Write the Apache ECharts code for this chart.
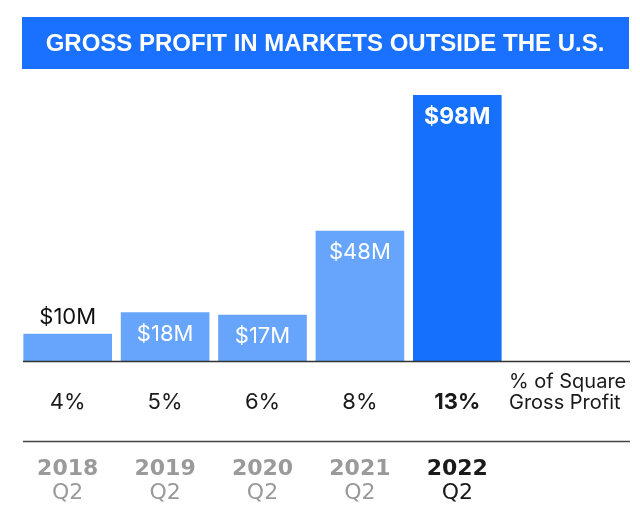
<!DOCTYPE html>
<html>
<head>
<meta charset="utf-8">
<script src="https://cdn.jsdelivr.net/npm/echarts@6/dist/echarts.min.js"></script>
<style>
html,body{margin:0;padding:0;background:#fff;}
#chart{width:640px;height:510px;}
</style>
</head>
<body>
<div id="chart"></div>
<script>
const titleText = 'GROSS PROFIT IN MARKETS OUTSIDE THE U.S.';
const years = ['2018', '2019', '2020', '2021', '2022'];
const quarters = ['Q2', 'Q2', 'Q2', 'Q2', 'Q2'];
const grossProfitM = [10, 18, 17, 48, 98];
const shareOfSquareGP = ['4%', '5%', '6%', '8%', '13%'];
const shareRowLabel = '% of Square\nGross Profit';

const LIGHT = '#66a5fb';
const DARK = '#1570fb';
const FONT = 'Inter';
const YFONT = '"DejaVu Sans"';
const last = years.length - 1;

const chart = echarts.init(document.getElementById('chart'), null, {renderer: 'canvas'});

const barData = grossProfitM.map((v, i) => {
  const isLast = i === last;
  const isSmall = i === 0;
  return {
    value: v,
    itemStyle: {color: isLast ? DARK : LIGHT},
    label: isSmall ? {
      position: 'top', distance: 5, color: '#111', fontWeight: 'normal'
    } : {
      position: 'insideTop', distance: 11, color: '#fff', fontWeight: isLast ? 'bold' : 'normal',
      fontSize: isLast ? 23 : 22
    }
  };
});

const option = {
  animation: false,
  backgroundColor: '#fff',
  grid: {left: 19, width: 487, top: 95, bottom: 149, containLabel: false},
  xAxis: [
    {
      type: 'category', data: years, gridIndex: 0, position: 'bottom',
      axisLine: {show: false}, axisTick: {show: false}, splitLine: {show: false},
      axisLabel: {
        margin: 30, interval: 0,
        formatter: (v, i) => i === last ? '{b|' + shareOfSquareGP[i] + '}' : '{n|' + shareOfSquareGP[i] + '}',
        rich: {
          n: {fontFamily: FONT, fontSize: 22, lineHeight: 22, color: '#1a1a1a'},
          b: {fontFamily: FONT, fontSize: 22, lineHeight: 22, color: '#1a1a1a', fontWeight: 'bold'}
        }
      }
    },
    {
      type: 'category', data: years, gridIndex: 0, position: 'bottom',
      axisLine: {show: false}, axisTick: {show: false}, splitLine: {show: false},
      axisLabel: {
        margin: 96, interval: 0,
        formatter: (v, i) => i === last
          ? '{yd|' + v + '}\n{qd|' + quarters[i] + '}'
          : '{yg|' + v + '}\n{qg|' + quarters[i] + '}',
        rich: {
          yg: {fontFamily: YFONT, fontSize: 22, lineHeight: 24, color: '#9a9a9a', fontWeight: 'bold'},
          qg: {fontFamily: YFONT, fontSize: 22, lineHeight: 24, color: '#9a9a9a'},
          yd: {fontFamily: YFONT, fontSize: 22, lineHeight: 24, color: '#1a1a1a', fontWeight: 'bold'},
          qd: {fontFamily: YFONT, fontSize: 22, lineHeight: 24, color: '#1a1a1a'}
        }
      }
    }
  ],
  yAxis: {type: 'value', min: 0, max: 98, show: false},
  series: [{
    type: 'bar',
    xAxisIndex: 0,
    data: barData,
    barCategoryGap: '9%',
    label: {
      show: true,
      fontFamily: FONT,
      fontSize: 22,
      lineHeight: 22,
      formatter: p => '$' + p.value + 'M'
    }
  }]
};

chart.setOption(option);

const base = chart.convertToPixel({gridIndex: 0}, [0, 0]);
const baseY = Math.round(base[1]) + 0.5;

chart.setOption({
  graphic: [
    {
      type: 'rect', left: 22, top: 17, z: 10,
      shape: {width: 607, height: 52},
      style: {fill: '#1a70ff'}
    },
    {
      type: 'text', x: 325, y: 44, z: 11,
      style: {
        text: titleText, fill: '#fff', align: 'center', verticalAlign: 'middle',
        font: 'bold 24px "Liberation Sans", Arial, sans-serif'
      }
    },
    {
      type: 'line', z: 20,
      shape: {x1: 23, y1: baseY, x2: 630, y2: baseY},
      style: {stroke: '#333', lineWidth: 1.6}
    },
    {
      type: 'line', z: 20,
      shape: {x1: 23, y1: baseY + 80, x2: 630, y2: baseY + 80},
      style: {stroke: '#444', lineWidth: 1.5}
    },
    {
      type: 'text', x: 509, y: baseY + 31, z: 11,
      style: {
        text: shareRowLabel, fill: '#1a1a1a', align: 'left', verticalAlign: 'middle',
        font: '20px Inter', lineHeight: 21
      }
    }
  ]
});
</script>
</body>
</html>
